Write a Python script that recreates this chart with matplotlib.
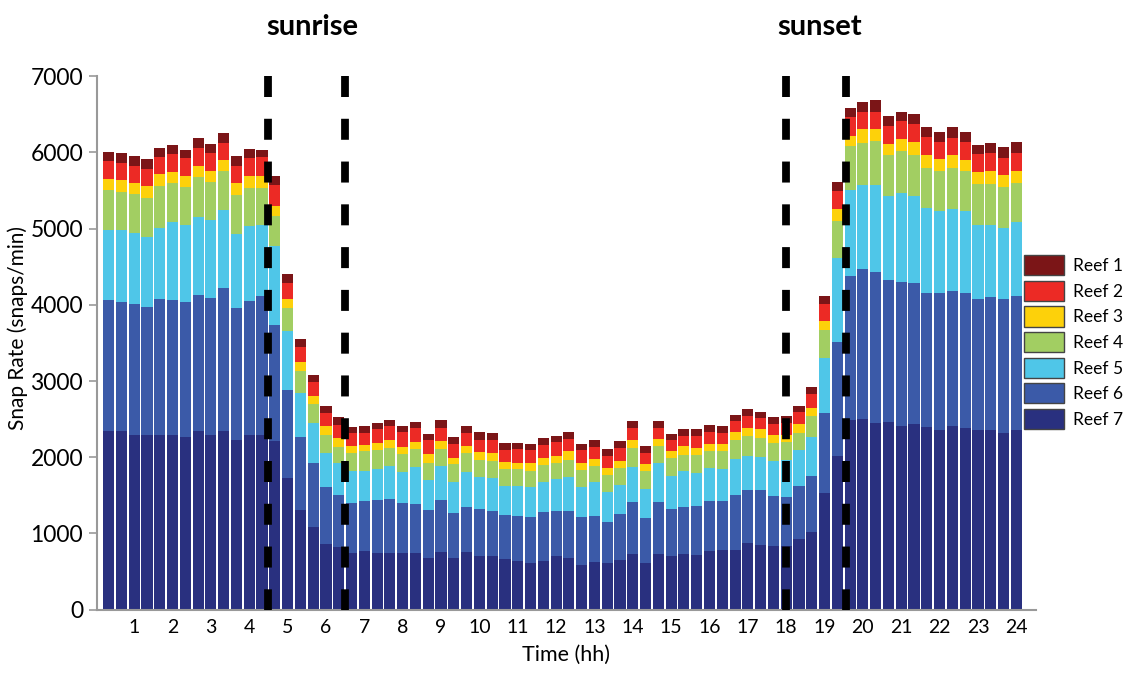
import numpy as np
import matplotlib
matplotlib.use('Agg')
import matplotlib.pyplot as plt
from matplotlib.patches import Patch

# time of each bar in hours (20-minute bins)
time_hh = np.arange(1, 73) / 3.0

# snap rate per reef (snaps/min), one value per 20 min bin
reef7 = [2340, 2340, 2290, 2290, 2290, 2290, 2260, 2340, 2290, 2340, 2220, 2290,
         2295, 2210, 1730, 1310, 1085, 865, 820, 745, 765, 745, 750, 745,
         745, 685, 755, 685, 755, 710, 700, 665, 635, 615, 635, 710,
         685, 590, 620, 615, 655, 730, 615, 730, 710, 735, 720, 765,
         790, 790, 875, 855, 830, 830, 930, 1015, 1525, 2015, 2485, 2500,
         2450, 2460, 2415, 2435, 2395, 2355, 2405, 2385, 2355, 2355, 2320, 2355]
reef6 = [1725, 1690, 1725, 1675, 1790, 1770, 1780, 1785, 1800, 1880, 1735, 1755,
         1815, 1530, 1150, 955, 840, 740, 685, 655, 655, 690, 700, 650,
         645, 625, 680, 590, 595, 610, 600, 575, 600, 605, 645, 590,
         610, 625, 610, 535, 595, 680, 590, 680, 615, 615, 645, 655,
         635, 710, 690, 715, 665, 655, 690, 745, 1060, 1500, 1890, 1970,
         1975, 1860, 1880, 1850, 1765, 1800, 1780, 1770, 1725, 1745, 1760, 1765]
reef5 = [910, 945, 925, 925, 930, 1025, 1000, 1025, 1020, 1025, 975, 990,
         935, 1030, 775, 580, 525, 450, 415, 415, 405, 410, 430, 415,
         480, 395, 445, 405, 460, 420, 425, 380, 385, 390, 400, 415,
         440, 395, 440, 395, 385, 460, 385, 515, 435, 465, 435, 435,
         425, 475, 445, 435, 450, 480, 470, 505, 720, 1095, 1135, 1095,
         1150, 1105, 1170, 1145, 1115, 1070, 1065, 1070, 965, 940, 930, 970]
reef4 = [525, 510, 510, 515, 550, 510, 500, 525, 500, 505, 505, 500,
         490, 400, 305, 285, 250, 240, 220, 240, 260, 255, 240, 230,
         235, 220, 230, 230, 240, 220, 225, 220, 220, 205, 220, 210,
         235, 225, 220, 225, 225, 250, 225, 220, 225, 220, 230, 230,
         230, 250, 270, 250, 240, 240, 230, 270, 360, 490, 570, 560,
         570, 535, 555, 540, 525, 530, 540, 525, 540, 540, 535, 510]
reef3 = [150, 145, 150, 155, 160, 145, 155, 140, 150, 150, 160, 155,
         155, 125, 120, 120, 100, 110, 110, 95, 75, 90, 110, 100,
         100, 120, 105, 85, 95, 105, 100, 95, 90, 105, 90, 85,
         110, 90, 90, 90, 90, 110, 90, 95, 95, 110, 90, 95,
         100, 110, 110, 120, 110, 90, 110, 110, 120, 155, 140, 175,
         160, 155, 155, 160, 165, 155, 170, 155, 150, 175, 160, 160]
reef2 = [230, 225, 220, 225, 220, 240, 225, 240, 225, 220, 230, 235,
         245, 270, 210, 195, 185, 175, 175, 165, 155, 175, 175, 185,
         175, 175, 175, 185, 175, 165, 175, 165, 175, 170, 170, 185,
         165, 165, 155, 155, 165, 155, 155, 145, 145, 140, 160, 155,
         140, 145, 155, 145, 140, 155, 160, 190, 220, 240, 245, 225,
         230, 230, 230, 240, 230, 220, 230, 230, 240, 230, 220, 230]
reef1 = [130, 130, 135, 125, 120, 120, 115, 130, 130, 130, 120, 120,
         100, 120, 110, 105, 100, 90, 100, 85, 90, 85, 90, 85,
         85, 90, 100, 90, 90, 95, 95, 85, 85, 90, 90, 85,
         85, 85, 85, 90, 95, 85, 85, 85, 85, 90, 90, 90,
         85, 75, 85, 80, 90, 85, 85, 85, 110, 120, 120, 130,
         145, 130, 130, 135, 135, 130, 140, 130, 120, 140, 145, 140]

reef_names = ['Reef 7', 'Reef 6', 'Reef 5', 'Reef 4', 'Reef 3', 'Reef 2', 'Reef 1']
reef_colors = ['#29307f', '#3b5aa8', '#4fc6e8', '#a2ce62', '#fdd10a', '#ec2a25', '#7b1517']

# sunrise / sunset markers (hours)
sunrise = [4.5, 6.5]
sunset = [18.0, 19.55]

hour_ticks = list(range(1, 25))

plt.rcParams['font.family'] = ['Lato', 'DejaVu Sans']

fig = plt.figure(figsize=(11.28, 6.73), dpi=100)
ax = fig.add_axes([0.086, 0.094, 0.832, 0.793])

bottom = np.zeros(len(time_hh))
handles = []
for name, vals, col in zip(reef_names, [reef7, reef6, reef5, reef4, reef3, reef2, reef1], reef_colors):
    vals = np.array(vals, dtype=float)
    ax.bar(time_hh, vals, width=0.29, bottom=bottom, color=col, linewidth=0)
    bottom = bottom + vals
    handles.append(Patch(facecolor=col, edgecolor='#444444', linewidth=1.0, label=name))

for xv in sunrise + sunset:
    ax.plot([xv, xv], [7000, 0], color='black', linewidth=5.6,
            dashes=(2.7, 2.8), solid_capstyle='butt', dash_capstyle='butt', zorder=5)

ax.set_xlim(0.03, 24.5)
ax.set_ylim(0, 7000)
ax.set_yticks(range(0, 7001, 1000))
ax.set_xticks(hour_ticks)
ax.set_xticklabels([str(h) for h in hour_ticks])
ax.tick_params(axis='x', length=0, labelsize=14, pad=7)
ax.tick_params(axis='y', length=6, width=1.2, color='#999999', labelsize=16.5, direction='out', pad=4)

for s in ['top', 'right']:
    ax.spines[s].set_visible(False)
for s in ['left', 'bottom']:
    ax.spines[s].set_color('#999999')
    ax.spines[s].set_linewidth(1.5)

fig.text(18 / 1128, 1 - 328 / 673, 'Snap Rate (snaps/min)', fontsize=15,
         rotation=90, ha='center', va='center')
ax.set_xlabel('Time (hh)', fontsize=15.5, labelpad=6)

fig.legend(handles=handles[::-1], loc='upper left', bbox_to_anchor=(0.902, 0.631),
           frameon=False, fontsize=12.5, handlelength=2.3, handleheight=1.4,
           handletextpad=0.5, labelspacing=0.32, borderaxespad=0)

fig.text(312 / 1128, 1 - 27 / 673, 'sunrise', fontsize=21, fontweight='bold',
         ha='center', va='center')
fig.text(820 / 1128, 1 - 27 / 673, 'sunset', fontsize=21, fontweight='bold',
         ha='center', va='center')

fig.savefig('out.png', dpi=100)
